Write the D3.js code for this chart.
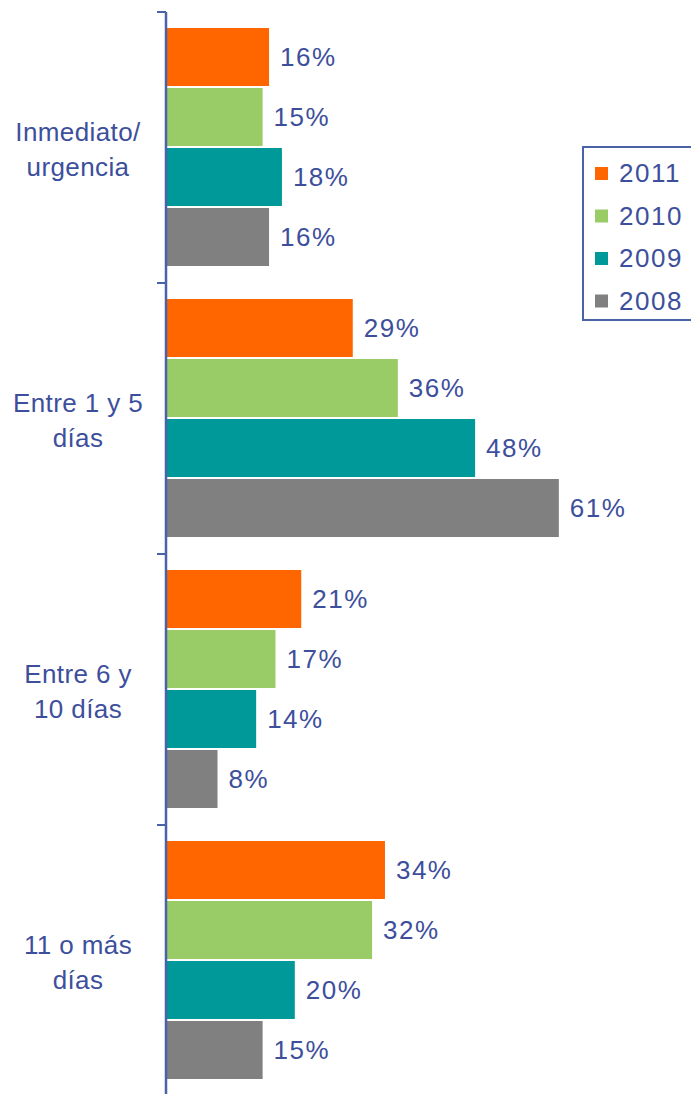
<!DOCTYPE html>
<html>
<head>
<meta charset="utf-8">
<script src="https://cdn.jsdelivr.net/npm/d3@7"></script>
<style>
  body { margin: 0; background: #fff; }
  svg { display: block; font-family: "Liberation Sans", Arial, sans-serif; }
</style>
</head>
<body>
<script>
// chart data
var categories = [["Inmediato/", "urgencia"], ["Entre 1 y 5", "días"], ["Entre 6 y", "10 días"], ["11 o más", "días"]];
var years = ["2011", "2010", "2009", "2008"];
var colors = ["#ff6600", "#99cc66", "#009999", "#808080"];
// values per year, same order as categories
var v2011 = [16, 29, 21, 34];
var v2010 = [15, 36, 17, 32];
var v2009 = [18, 48, 14, 20];
var v2008 = [16, 61, 8, 15];
var series = [v2011, v2010, v2009, v2008];

var width = 691, height = 1094;
var textColor = "#3d4f9c", axisColor = "#4a62a8";
var fs = 26;

var svg = d3.select("body").append("svg")
    .attr("width", width)
    .attr("height", height);

var y0 = d3.scaleBand()
    .domain(d3.range(categories.length))
    .range([12, 12 + 4 * 271]);

var y1 = d3.scaleBand()
    .domain(d3.range(years.length))
    .range([16, 256]);

var x = d3.scaleLinear()
    .domain([0, 100])
    .range([166, 810]);

var group = svg.append("g")
    .selectAll("g")
    .data(categories)
    .join("g")
    .attr("transform", (d, i) => `translate(0,${y0(i)})`);

// bars
group.selectAll("rect")
    .data((d, i) => series.map((s, k) => ({ k: k, v: s[i] })))
    .join("rect")
    .attr("x", x(0))
    .attr("y", d => y1(d.k))
    .attr("width", d => x(d.v) - x(0))
    .attr("height", y1.bandwidth() - 2)
    .attr("fill", d => colors[d.k]);

// value labels
group.selectAll("text.val")
    .data((d, i) => series.map((s, k) => ({ k: k, v: s[i] })))
    .join("text")
    .attr("class", "val")
    .attr("x", d => x(d.v) + 11)
    .attr("y", d => y1(d.k) + (y1.bandwidth() - 2) / 2)
    .attr("dy", "0.36em")
    .attr("font-size", fs)
    .attr("letter-spacing", 1.5)
    .attr("fill", textColor)
    .text(d => d.v + "%");

// category labels
group.append("text")
    .attr("text-anchor", "middle")
    .attr("font-size", fs)
    .attr("letter-spacing", 0.4)
    .attr("fill", textColor)
    .selectAll("tspan")
    .data(d => d)
    .join("tspan")
    .attr("x", 78)
    .attr("y", (d, j) => y0.bandwidth() / 2 - 7 + j * 35)
    .text(d => d);

// axis line + ticks
svg.append("line")
    .attr("x1", 166).attr("x2", 166)
    .attr("y1", 12).attr("y2", height)
    .attr("stroke", axisColor)
    .attr("stroke-width", 2.5);

svg.append("g")
    .selectAll("line")
    .data(d3.range(categories.length))
    .join("line")
    .attr("x1", 157).attr("x2", 166)
    .attr("y1", d => y0(d)).attr("y2", d => y0(d))
    .attr("stroke", axisColor)
    .attr("stroke-width", 2);

// legend
var legend = svg.append("g").attr("transform", "translate(583,147)");
legend.append("rect")
    .attr("width", 120).attr("height", 173)
    .attr("fill", "#fff")
    .attr("stroke", axisColor)
    .attr("stroke-width", 2);

var item = legend.selectAll("g")
    .data(years)
    .join("g")
    .attr("transform", (d, i) => `translate(12,${26 + i * 42.5})`);

item.append("rect")
    .attr("y", -6).attr("width", 13).attr("height", 13)
    .attr("fill", (d, i) => colors[i]);

item.append("text")
    .attr("x", 24)
    .attr("dy", "0.36em")
    .attr("font-size", fs)
    .attr("letter-spacing", 1.5)
    .attr("fill", textColor)
    .text(d => d);
</script>
</body>
</html>
